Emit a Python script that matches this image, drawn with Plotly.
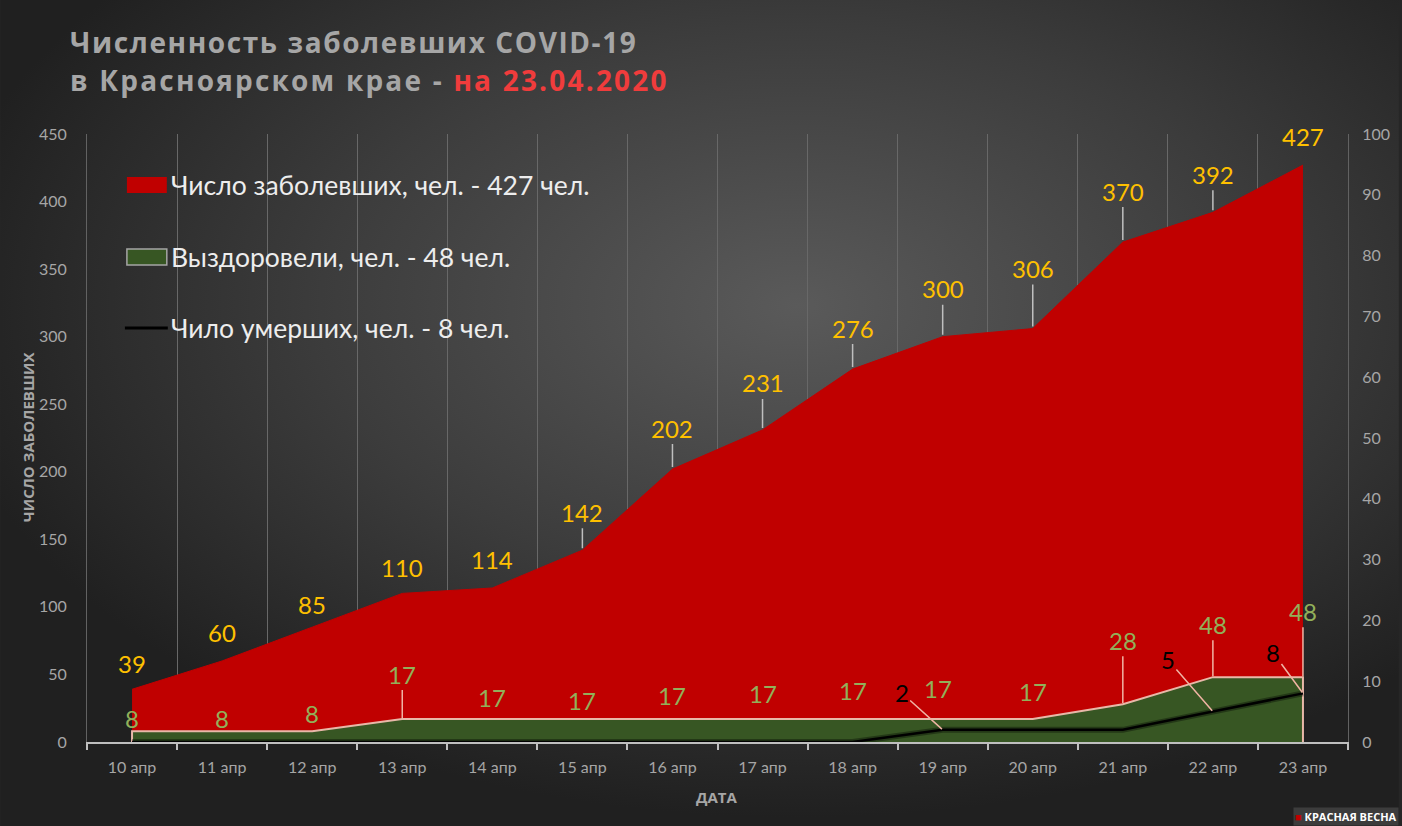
import base64
import plotly.graph_objects as go

# ---------------- data ----------------
dates = ["10 апр", "11 апр", "12 апр", "13 апр", "14 апр", "15 апр", "16 апр",
         "17 апр", "18 апр", "19 апр", "20 апр", "21 апр", "22 апр", "23 апр"]
cases = [39, 60, 85, 110, 114, 142, 202, 231, 276, 300, 306, 370, 392, 427]
recovered = [8, 8, 8, 17, 17, 17, 17, 17, 17, 17, 17, 28, 48, 48]
deaths = [0, 0, 0, 0, 0, 0, 0, 0, 0, 2, 2, 2, 5, 8]
left_ticks = [0, 50, 100, 150, 200, 250, 300, 350, 400, 450]
right_ticks = [0, 10, 20, 30, 40, 50, 60, 70, 80, 90, 100]

name_cases = "Число заболевших, чел. - 427 чел."
name_rec = "Выздоровели, чел. - 48 чел."
name_deaths = "Чило умерших, чел. - 8 чел."

# ---------------- label layout (pixel offsets) ----------------
case_dy = [26, 28, 23, 26, 28, 38, 41, 47, 41, 48, 60, 51, 38, 29]
case_leader = [False, False, False, False, False, True, True, True, True, True, True, True, True, False]
rec_dy = [13, 13, 18, 45, 22, 19, 24, 26, 29, 31, 28, 64, 53, 66]
rec_dx = [0, 0, 0, 0, 0, 0, 0, 0, 0, -5, 0, 0, 0, 0]
rec_leader = [False, False, False, True, False, False, False, False, False, False, False, True, True, True]
death_labels = {9: (-41, -37), 12: (-45, -52), 13: (-30, -41)}

W, H = 1402, 826
ML, MR, MT, MB = 87, 51, 134, 84
PW, PH = W - ML - MR, H - MT - MB


def px_x(px):
    return (px - ML) / PW


def px_y(py):
    return (H - MB - py) / PH


FONT = "Lato"
GOLD = "#FFC000"
OLIVE = "#92B05A"
RED = "#C00000"
GREEN = "#375623"
GRAY = "#A6A6A6"

xs = list(range(len(dates)))

fig = go.Figure()

fig.add_trace(go.Scatter(
    x=xs, y=cases, name=name_cases, mode="lines", fill="tozeroy",
    fillcolor=RED, line=dict(color=RED, width=1), showlegend=False, hoverinfo="skip"))

rec_x = [xs[0]] + xs + [xs[-1]]
rec_y = [0] + recovered + [0]
fig.add_trace(go.Scatter(
    x=rec_x, y=rec_y, name=name_rec, mode="lines", fill="toself",
    fillcolor=GREEN, line=dict(color="#E8B8A8", width=2), showlegend=False, hoverinfo="skip"))

fig.add_trace(go.Scatter(
    x=xs, y=deaths, name=name_deaths, mode="lines", yaxis="y2",
    line=dict(color="rgba(0,0,0,0.35)", width=6), showlegend=False, hoverinfo="skip"))
fig.add_trace(go.Scatter(
    x=xs, y=deaths, name=name_deaths, mode="lines", yaxis="y2",
    line=dict(color="#000000", width=2.5), showlegend=False, hoverinfo="skip"))

annotations = []
# cases labels
for i, v in enumerate(cases):
    annotations.append(dict(
        x=xs[i], y=v, xref="x", yref="y", text=str(v),
        showarrow=True, arrowhead=0, arrowwidth=1.5,
        arrowcolor="#BFBFBF" if case_leader[i] else "rgba(0,0,0,0)",
        ax=0, ay=-case_dy[i], standoff=2,
        font=dict(family=FONT, size=24, color=GOLD)))
# recovered labels
for i, v in enumerate(recovered):
    annotations.append(dict(
        x=xs[i], y=v, xref="x", yref="y", text=str(v),
        showarrow=True, arrowhead=0, arrowwidth=1.5,
        arrowcolor="#F0B4A4" if rec_leader[i] else "rgba(0,0,0,0)",
        ax=rec_dx[i], ay=-rec_dy[i], standoff=1,
        font=dict(family=FONT, size=24, color=OLIVE)))
# deaths labels
for i, (dx, dy) in death_labels.items():
    annotations.append(dict(
        x=xs[i], y=deaths[i], xref="x", yref="y2", text=str(deaths[i]),
        showarrow=True, arrowhead=0, arrowwidth=1.5, arrowcolor="#F0B4A4",
        ax=dx, ay=dy, standoff=1,
        font=dict(family=FONT, size=24, color="#000000")))

# title
annotations.append(dict(
    xref="paper", yref="paper", x=px_x(68), y=px_y(42), xanchor="left", yanchor="middle",
    text="<span style='letter-spacing:1.6px'>Численность заболевших COVID-19</span>", showarrow=False,
    font=dict(family="Open Sans", size=28, color=GRAY, weight="bold")))
annotations.append(dict(
    xref="paper", yref="paper", x=px_x(68), y=px_y(80), xanchor="left", yanchor="middle",
    text="<span style='letter-spacing:2.2px'>в Красноярском крае - </span>"
         "<span style='letter-spacing:2.2px;color:#F03C3C'>на 23.04.2020</span>",
    showarrow=False,
    font=dict(family="Open Sans", size=28, color=GRAY, weight="bold")))
# axis titles
annotations.append(dict(
    xref="paper", yref="paper", x=px_x(28), y=px_y(437), xanchor="center", yanchor="middle",
    text="ЧИСЛО ЗАБОЛЕВШИХ", textangle=-90, showarrow=False,
    font=dict(family="Open Sans", size=15, color=GRAY, weight="bold")))
annotations.append(dict(
    xref="paper", yref="paper", x=px_x(718), y=px_y(797), xanchor="center", yanchor="middle",
    text="ДАТА", showarrow=False,
    font=dict(family="Open Sans", size=15, color=GRAY, weight="bold")))
# watermark
annotations.append(dict(
    xref="paper", yref="paper", x=px_x(W), y=px_y(H), xanchor="right", yanchor="bottom",
    text="<span style='color:#C00000'>■</span> КРАСНАЯ ВЕСНА", showarrow=False,
    bgcolor="#3C3C3C", borderpad=1,
    font=dict(family="Open Sans", size=11, color="#FFFFFF", weight="bold")))

# manual legend
shapes = []
legend_rows = [(185, name_cases, "fill", RED, None),
               (257, name_rec, "fill", GREEN, "#A5A5A5"),
               (328, name_deaths, "line", "#000000", None)]
for cy, label, kind, col, border in legend_rows:
    if kind == "fill":
        shapes.append(dict(type="rect", xref="paper", yref="paper",
                           x0=px_x(127), x1=px_x(167), y0=px_y(cy + 8), y1=px_y(cy - 8),
                           fillcolor=col,
                           line=dict(color=border if border else col, width=1.5 if border else 0)))
    else:
        shapes.append(dict(type="line", xref="paper", yref="paper",
                           x0=px_x(125), x1=px_x(168), y0=px_y(cy), y1=px_y(cy),
                           line=dict(color=col, width=3)))
    annotations.append(dict(
        xref="paper", yref="paper", x=px_x(169), y=px_y(cy), xanchor="left", yanchor="middle",
        text=label, showarrow=False,
        font=dict(family=FONT, size=26.5, color="#EDEDED")))

# background gradient
svg = f'''<svg xmlns="http://www.w3.org/2000/svg" width="{W}" height="{H}" viewBox="0 0 {W} {H}">
<defs><radialGradient id="g" cx="0.57" cy="0.37" r="0.62">
<stop offset="0" stop-color="#5A5A5A"/><stop offset="0.55" stop-color="#3C3C3C"/><stop offset="1" stop-color="#202020"/>
</radialGradient></defs><rect width="{W}" height="{H}" fill="url(#g)"/></svg>'''
src = "data:image/svg+xml;base64," + base64.b64encode(svg.encode()).decode()

fig.update_layout(
    width=W, height=H,
    margin=dict(l=ML, r=MR, t=MT, b=MB, pad=0),
    paper_bgcolor="#262626", plot_bgcolor="rgba(0,0,0,0)",
    showlegend=False,
    images=[dict(source=src, xref="paper", yref="paper",
                 x=px_x(0), y=px_y(0), sizex=W / PW, sizey=H / PH,
                 xanchor="left", yanchor="top", sizing="stretch", layer="below")],
    xaxis=dict(
        range=[-0.5, len(dates) - 0.5], tickvals=xs, ticktext=dates,
        ticks="", showgrid=False, zeroline=False,
        showline=True, linecolor="#BFBFBF", linewidth=2,
        ticklabelstandoff=10,
        tickfont=dict(family=FONT, size=16, color=GRAY),
        minor=dict(tickvals=[i - 0.5 for i in range(len(dates) + 1)], showgrid=True,
                   gridcolor="#686868", gridwidth=1,
                   ticks="outside", ticklen=6, tickcolor="#BFBFBF", tickwidth=2),
    ),
    yaxis=dict(
        range=[0, 450], tickvals=left_ticks, showgrid=False, zeroline=False,
        showline=True, linecolor="#626262", linewidth=1,
        ticks="", ticklabelstandoff=16,
        tickfont=dict(family=FONT, size=16, color=GRAY),
    ),
    yaxis2=dict(
        range=[0, 100], tickvals=right_ticks, overlaying="y", side="right",
        showgrid=False, zeroline=False,
        showline=True, linecolor="#626262", linewidth=1,
        ticks="", ticklabelstandoff=10,
        tickfont=dict(family=FONT, size=16, color=GRAY),
    ),
    annotations=annotations,
    shapes=shapes,
)

fig.write_html(
    "out.html", config={"displayModeBar": False},
    post_script=("document.documentElement.style.overflow='hidden';"
                 "document.documentElement.style.background='#262626';"
                 "document.body.style.margin='0';document.body.style.overflow='hidden';"
                 "document.body.style.background='#262626';"))
